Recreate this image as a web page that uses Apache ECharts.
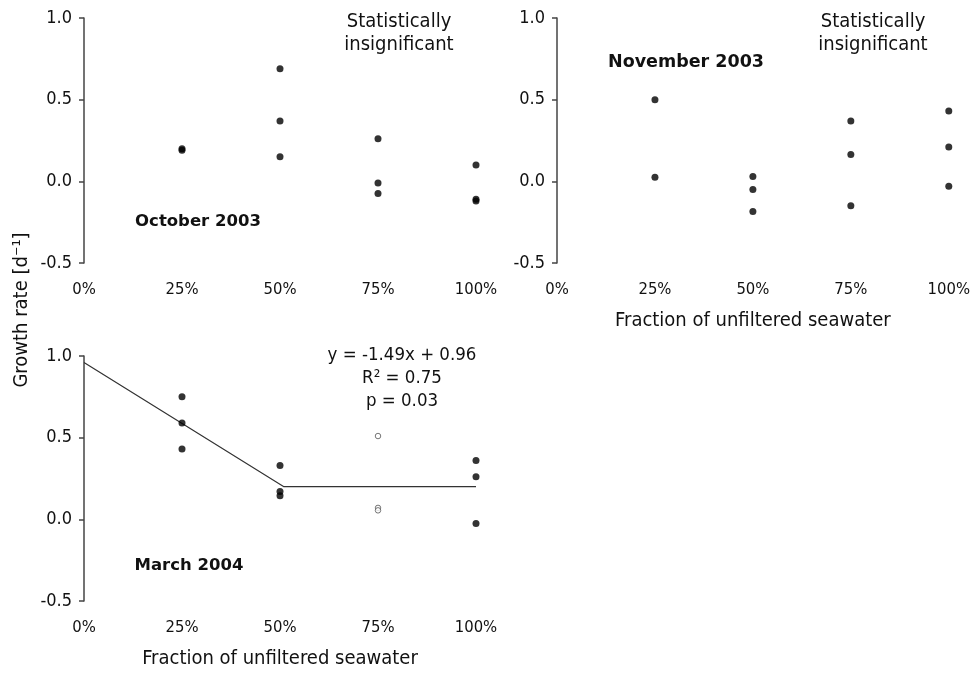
<!DOCTYPE html>
<html>
<head>
<meta charset="utf-8">
<script src="https://cdn.jsdelivr.net/npm/echarts@6/dist/echarts.min.js"></script>
<style>html,body{margin:0;padding:0;background:#fff}#c{width:973px;height:673px}</style>
</head>
<body>
<div id="c"></div>
<script>
// ---- data ----
const xTicks = [0, 25, 50, 75, 100];
const octX = [25, 25, 50, 50, 50, 75, 75, 75, 100, 100, 100];
const octY = [0.20, 0.19, 0.69, 0.37, 0.15, 0.26, -0.01, -0.075, 0.10, -0.11, -0.12];
const novX = [25, 25, 50, 50, 50, 75, 75, 75, 100, 100, 100];
const novY = [0.50, 0.025, 0.03, -0.05, -0.185, 0.37, 0.165, -0.15, 0.43, 0.21, -0.03];
const marX = [25, 25, 25, 50, 50, 50, 100, 100, 100];
const marY = [0.75, 0.59, 0.43, 0.33, 0.17, 0.145, 0.36, 0.26, -0.025];
const marOpenX = [75, 75, 75];
const marOpenY = [0.51, 0.07, 0.055];
const fitX = [0, 51, 100];
const fitY = [0.96, 0.20, 0.20];
const panelTitles = ['October 2003', 'November 2003', 'March 2004'];
const xName = 'Fraction of unfiltered seawater';
const yName = 'Growth rate [d\u207B\u00B9]';

const FONT = 'DejaVu Sans Condensed';
const zip = (xs, ys) => xs.map((x, i) => [x, ys[i]]);

const grids = [
  {left: 84, top: 18, width: 392, height: 245},
  {left: 557, top: 18, width: 392, height: 245},
  {left: 84, top: 356, width: 392, height: 245}
];

function xAx(i, named) {
  return {
    type: 'value', gridIndex: i, min: 0, max: 100, interval: 25,
    axisLine: {show: false}, axisTick: {show: false}, splitLine: {show: false},
    axisLabel: {formatter: '{value}%', fontFamily: FONT, fontSize: 16.5, color: '#111', margin: 18},
    name: named ? xName : '', nameLocation: 'middle', nameGap: 48,
    nameTextStyle: {fontFamily: FONT, fontSize: 20, color: '#111'}
  };
}
function yAx(i) {
  return {
    type: 'value', gridIndex: i, min: -0.5, max: 1, interval: 0.5,
    axisLine: {show: true, lineStyle: {color: '#444', width: 1.5}},
    axisTick: {show: true, length: 5, lineStyle: {color: '#444', width: 1.5}},
    splitLine: {show: false},
    axisLabel: {formatter: v => v.toFixed(1), fontFamily: FONT, fontSize: 18, color: '#111', margin: 12}
  };
}
const dot = {symbol: 'circle', symbolSize: 7, itemStyle: {color: '#000'}};

const chart = echarts.init(document.getElementById('c'), null, {renderer: 'canvas'});
chart.setOption({
  backgroundColor: '#fff',
  animation: false,
  grid: grids,
  xAxis: [xAx(0, false), xAx(1, true), xAx(2, true)],
  yAxis: [yAx(0), yAx(1), yAx(2)],
  series: [
    Object.assign({type: 'scatter', xAxisIndex: 0, yAxisIndex: 0, data: zip(octX, octY)}, dot),
    Object.assign({type: 'scatter', xAxisIndex: 1, yAxisIndex: 1, data: zip(novX, novY)}, dot),
    Object.assign({type: 'scatter', xAxisIndex: 2, yAxisIndex: 2, data: zip(marX, marY)}, dot),
    {type: 'scatter', xAxisIndex: 2, yAxisIndex: 2, data: zip(marOpenX, marOpenY), symbol: 'circle', symbolSize: 5.5,
     itemStyle: {color: '#fff', borderColor: '#555', borderWidth: 1}},
    {type: 'line', xAxisIndex: 2, yAxisIndex: 2, data: zip(fitX, fitY), symbol: 'none',
     lineStyle: {color: '#333', width: 1.2}, z: 1}
  ],
  graphic: [
    {type: 'text', x: 399, y: 33, style: {text: 'Statistically\ninsignificant', font: '20px "' + FONT + '"', fill: '#111', align: 'center', verticalAlign: 'middle', lineHeight: 23}},
    {type: 'text', x: 873, y: 33, style: {text: 'Statistically\ninsignificant', font: '20px "' + FONT + '"', fill: '#111', align: 'center', verticalAlign: 'middle', lineHeight: 23}},
    {type: 'text', x: 198, y: 222, style: {text: panelTitles[0], font: 'bold 16.5px "DejaVu Sans"', fill: '#111', align: 'center', verticalAlign: 'middle'}},
    {type: 'text', x: 686, y: 62, style: {text: panelTitles[1], font: 'bold 17.5px "DejaVu Sans"', fill: '#111', align: 'center', verticalAlign: 'middle'}},
    {type: 'text', x: 189, y: 566, style: {text: panelTitles[2], font: 'bold 16.5px "DejaVu Sans"', fill: '#111', align: 'center', verticalAlign: 'middle'}},
    {type: 'text', x: 402, y: 378, style: {text: 'y = -1.49x + 0.96\nR\u00B2 = 0.75\np = 0.03', font: '18.5px "' + FONT + '"', fill: '#111', align: 'center', verticalAlign: 'middle', lineHeight: 23}},
    {type: 'text', x: 22, y: 310, rotation: Math.PI / 2, style: {text: yName, font: '20px "' + FONT + '"', fill: '#111', align: 'center', verticalAlign: 'middle'}}
  ]
});
</script>
</body>
</html>
